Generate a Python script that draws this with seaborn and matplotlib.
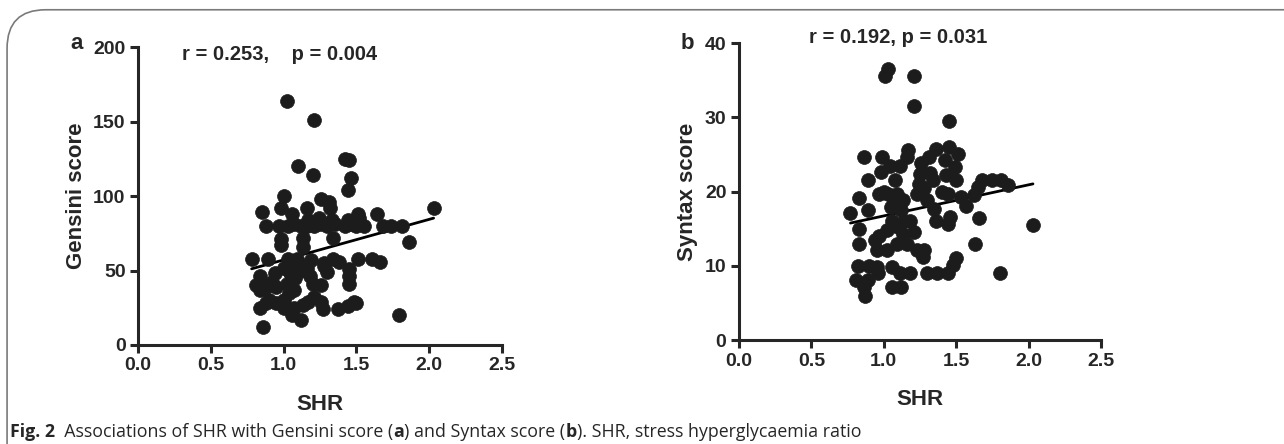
import matplotlib
matplotlib.use("Agg")
import matplotlib.pyplot as plt
from matplotlib.patches import FancyBboxPatch
import seaborn as sns
import pandas as pd

# Panel a: SHR vs Gensini score
shr_a = [1.02, 1.21, 1.10, 1.20, 1.42, 1.45, 1.46, 1.44, 1.00, 1.26, 1.31, 1.32, 0.98, 0.85,
         1.06, 1.16, 1.64, 1.51, 0.88, 0.97, 1.03, 1.07, 1.12, 1.16, 1.21, 1.25, 1.30, 1.35,
         1.42, 1.46, 1.50, 1.55, 1.17, 1.24, 1.33, 1.44, 1.49, 1.52, 1.68, 1.74, 1.81, 1.86,
         2.03, 0.98, 0.98, 1.13, 1.13, 1.34, 0.78, 0.89, 1.03, 1.09, 1.28, 1.34, 1.51, 1.61,
         1.66, 1.45, 1.45, 1.45, 1.30, 0.94, 0.84, 0.81, 0.84, 0.88, 0.95, 1.02, 1.07, 1.00,
         1.04, 1.11, 1.16, 1.18, 1.20, 1.26, 0.88, 0.95, 1.00, 1.04, 0.84, 0.86, 1.07, 1.06,
         1.12, 1.13, 1.17, 1.21, 1.26, 1.27, 1.37, 1.44, 1.48, 1.50, 1.79, 0.92, 1.08, 1.10,
         1.14, 0.90, 1.00, 1.19, 1.28, 1.38, 1.05]
gensini = [164, 151, 120, 114, 125, 124, 112, 104, 100, 98, 96, 92, 92, 89,
           88, 92, 88, 88, 80, 80, 80, 81, 80, 80, 80, 81, 80, 81,
           80, 81, 80, 80, 84, 85, 84, 84, 84, 85, 80, 80, 80, 69,
           92, 71, 67, 72, 66, 72, 58, 58, 58, 58, 55, 58, 58, 58,
           56, 51, 46, 41, 49, 48, 46, 40, 37, 39, 39, 41, 37, 52,
           50, 50, 52, 46, 41, 40, 28, 28, 30, 35, 25, 12, 25, 20,
           17, 27, 29, 32, 29, 24, 24, 26, 29, 28, 20, 42, 45, 55,
           52, 30, 25, 57, 53, 56, 47]

# Panel b: SHR vs Syntax score
shr_b = [1.01, 1.03, 1.21, 1.21, 1.45, 0.86, 0.99, 0.98, 0.89, 1.08, 0.83, 0.77, 0.89, 0.83,
         0.83, 0.82, 0.81, 0.86, 0.87, 0.89, 0.90, 0.95, 0.96, 0.94, 0.95, 1.02, 1.06, 1.06,
         1.12, 1.11, 1.18, 0.97, 1.03, 1.09, 1.13, 1.04, 1.11, 1.16, 1.17, 1.05, 1.06, 1.02,
         1.10, 1.13, 1.16, 1.09, 1.18, 1.21, 1.23, 1.25, 1.26, 1.31, 1.36, 1.34, 1.30, 1.35,
         1.36, 1.23, 1.27, 1.30, 1.37, 1.44, 1.48, 1.50, 1.28, 1.42, 1.45, 1.49, 1.51, 1.43,
         1.50, 1.44, 1.46, 1.44, 1.53, 1.57, 1.62, 1.65, 1.68, 1.75, 1.81, 1.86, 1.66, 1.63,
         1.80, 2.03, 1.00, 1.07, 1.14, 1.24, 1.28, 1.32, 1.40, 1.08, 1.12, 0.97]
syntax = [35.6, 36.5, 35.5, 31.5, 29.5, 24.6, 24.6, 22.6, 21.5, 21.5, 19.1, 17.1, 17.5, 14.9,
          12.9, 10.0, 8.1, 7.1, 6.0, 8.1, 10.0, 9.9, 9.0, 13.5, 12.1, 12.1, 9.9, 7.1,
          7.1, 9.0, 9.0, 19.7, 19.7, 19.7, 18.8, 23.5, 23.5, 24.7, 25.6, 17.9, 16.1, 14.8,
          15.2, 14.3, 13.0, 13.0, 16.1, 14.6, 19.7, 22.4, 23.8, 24.7, 25.8, 21.5, 18.8, 17.7,
          16.1, 12.1, 11.2, 9.0, 9.0, 9.0, 10.1, 11.0, 12.1, 24.2, 26.0, 23.3, 25.0, 22.2,
          21.5, 19.7, 16.6, 15.7, 19.3, 18.1, 19.5, 20.6, 21.5, 21.5, 21.5, 20.9, 16.5, 13.0,
          9.0, 15.5, 20.0, 18.5, 16.0, 21.0, 20.5, 22.5, 20.0, 15.5, 17.5, 14.0]

x_ticks = [0.0, 0.5, 1.0, 1.5, 2.0, 2.5]

caption_parts = [("Fig. 2", True), ("  Associations of SHR with Gensini score (", False),
                 ("a", True), (") and Syntax score (", False), ("b", True),
                 ("). SHR, stress hyperglycaemia ratio", False)]

df_a = pd.DataFrame({"SHR": shr_a, "score": gensini})
df_b = pd.DataFrame({"SHR": shr_b, "score": syntax})

sns.set_style("ticks")
plt.rcParams['font.family'] = ['Liberation Sans', 'DejaVu Sans']

fig = plt.figure(figsize=(12.84, 4.44), dpi=100)

# rounded frame around the figure
frame = FancyBboxPatch((0.0055, -0.2), 1.1, 1.178, boxstyle="round,pad=0,rounding_size=0.03",
                       transform=fig.transFigure, facecolor="none", edgecolor="#7a7a7a",
                       linewidth=1.2, mutation_aspect=2.9)
fig.patches.append(frame)

ax_a = fig.add_axes([0.1075, 0.223, 0.2835, 0.671])
ax_b = fig.add_axes([0.5755, 0.234, 0.2820, 0.669])

dot = "#1c1c1c"
panels = [(ax_a, df_a, 200, 50, "Gensini score", -0.139),
          (ax_b, df_b, 40, 10, "Syntax score", -0.114)]
for ax, df, ymax, ystep, ylabel, ylab_x in panels:
    sns.scatterplot(data=df, x="SHR", y="score", ax=ax, color=dot, s=100,
                    edgecolor=dot, linewidth=0.5, zorder=3)
    sns.regplot(data=df, x="SHR", y="score", ax=ax, scatter=False, ci=None,
                truncate=True, line_kws={"color": "black", "linewidth": 2})
    ax.set_xlim(0, 2.5)
    ax.set_ylim(0, ymax)
    ax.set_xticks(x_ticks)
    ax.set_xticklabels([f"{t:.1f}" for t in x_ticks])
    ax.set_yticks(list(range(0, ymax + 1, ystep)))
    ax.set_xlabel("SHR", fontsize=16, fontweight="bold")
    ax.set_ylabel(ylabel, fontsize=16, fontweight="bold")
    ax.xaxis.set_label_coords(0.5, -0.163)
    ax.yaxis.set_label_coords(ylab_x, 0.5)
    for side in ["top", "right"]:
        ax.spines[side].set_visible(False)
    for side in ["left", "bottom"]:
        ax.spines[side].set_linewidth(2.2)
    ax.tick_params(width=2.2, length=6, pad=3, labelsize=14)
    for lab in ax.get_xticklabels() + ax.get_yticklabels():
        lab.set_fontweight("bold")

fig.text(0.060, 0.903, "a", fontsize=16, fontweight="bold", ha="center", va="center")
fig.text(0.535, 0.903, "b", fontsize=16, fontweight="bold", ha="center", va="center")
fig.text(0.1417, 0.878, "r = 0.253,    p = 0.004", fontsize=14.5, fontweight="bold", va="center")
fig.text(0.630, 0.915, "r = 0.192, p = 0.031", fontsize=14.5, fontweight="bold", va="center")

# caption, piece by piece so that the bold parts sit inline
renderer = fig.canvas.get_renderer()
x = 0.008
for txt, bold in caption_parts:
    t = fig.text(x, 0.027, txt, fontsize=12.8, fontweight="bold" if bold else "normal",
                 va="center", family=["Open Sans", "DejaVu Sans"])
    bb = t.get_window_extent(renderer=renderer)
    x += bb.width / fig.bbox.width

fig.savefig("out.png", dpi=100)
